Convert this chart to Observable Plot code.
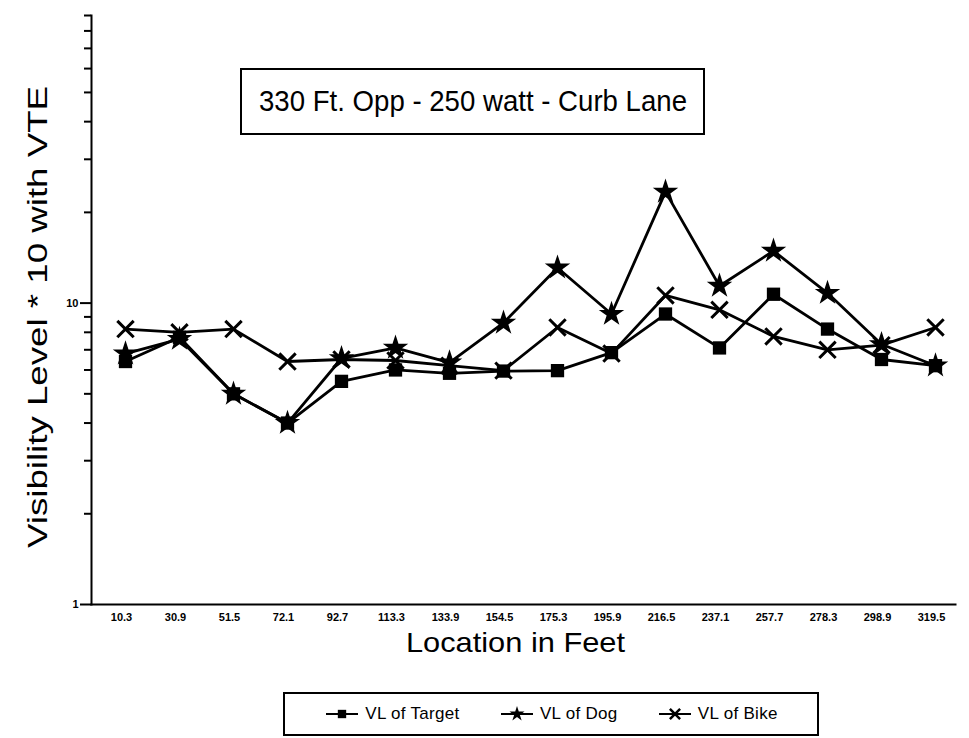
<!DOCTYPE html>
<html>
<head>
<meta charset="utf-8">
<script src="https://cdn.jsdelivr.net/npm/d3@7"></script>
<script src="https://cdn.jsdelivr.net/npm/@observablehq/plot@0.6"></script>
<style>
  body { margin: 0; background: #fff; font-family: "Liberation Sans", Arial, sans-serif; }
  #wrap { position: relative; width: 969px; height: 738px; }
  #overlay { position: absolute; left: 0; top: 0; pointer-events: none; }
  #legend { position: absolute; left: 283px; top: 692px; width: 532px; height: 40px; border: 2px solid #000;
            display: flex; align-items: center; justify-content: space-evenly; font-size: 17px; letter-spacing: 0.3px; }
  #legend span.item { display: inline-flex; align-items: center; gap: 5px; }
</style>
</head>
<body>
<div id="wrap">
  <div id="chart"></div>
  <div id="legend"></div>
</div>
<script>
const locations = ["10.3","30.9","51.5","72.1","92.7","113.3","133.9","154.5","175.3","195.9","216.5","237.1","257.7","278.3","298.9","319.5"];
const target = [6.4, 7.7, 5.0, 4.0, 5.5, 6.0, 5.85, 5.95, 5.97, 6.85, 9.2, 7.1, 10.7, 8.2, 6.5, 6.2];
const dog    = [6.8, 7.6, 5.0, 4.0, 6.55, 7.1, 6.35, 8.6, 13.1, 9.2, 23.4, 11.4, 14.9, 10.8, 7.3, 6.2];
const bike   = [8.2, 8.0, 8.2, 6.4, 6.5, 6.45, 6.2, 5.97, 8.3, 6.8, 10.6, 9.5, 7.75, 7.0, 7.25, 8.3];
const seriesNames = ["VL of Target", "VL of Dog", "VL of Bike"];
const minorTicks = [2,3,4,5,6,7,8,9,20,30,40,50,60,70,80,90];
const majorTicks = [1, 10];
const titleText = "330 Ft. Opp - 250 watt - Curb Lane";
const xLabel = "Location in Feet";
const yLabel = "Visibility Level * 10 with VTE";

const rows = [];
[target, dog, bike].forEach((arr, si) => arr.forEach((v, i) => rows.push({loc: locations[i], v, series: seriesNames[si]})));
const bySeries = name => rows.filter(d => d.series === name);

const chart = Plot.plot({
  width: 969,
  height: 680,
  marginLeft: 91,
  marginRight: 14,
  marginTop: 15,
  marginBottom: 76,
  style: {fontFamily: "Liberation Sans, Arial, sans-serif", color: "#000", background: "#fff"},
  x: {type: "point", domain: locations, range: [123, 937], padding: 0},
  y: {type: "log", domain: [1, 90]},
  marks: [
    Plot.frame({anchor: "left", strokeWidth: 2}),
    Plot.frame({anchor: "bottom", strokeWidth: 2}),
    Plot.axisY({ticks: minorTicks, tickSize: 7, tickFormat: () => "", label: null, strokeWidth: 2}),
    Plot.axisY({ticks: majorTicks, tickSize: 11, tickPadding: 2, tickFormat: d => String(d), label: null, fontSize: 11, fontWeight: "bold", strokeWidth: 2}),
    Plot.axisX({tickSize: 0, tickPadding: 9, label: null, fontSize: 11, fontWeight: "bold", dx: -4}),
    Plot.line(rows, {x: "loc", y: "v", z: "series", stroke: "#000", strokeWidth: 2.8}),
    Plot.dot(bySeries("VL of Target"), {x: "loc", y: "v", symbol: "square", r: 7.5, fill: "#000"}),
    Plot.dot(bySeries("VL of Dog"), {x: "loc", y: "v", symbol: "star", r: 8, fill: "#000"}),
    Plot.dot(bySeries("VL of Bike"), {x: "loc", y: "v", symbol: "times", r: 7.5, stroke: "#000", strokeWidth: 3})
  ]
});
document.getElementById("chart").appendChild(chart);

// overlay texts (title box and axis labels)
const ov = d3.select("#wrap").append("svg").attr("id", "overlay").attr("width", 969).attr("height", 680)
  .style("font-family", "Liberation Sans, Arial, sans-serif");
ov.append("rect").attr("x", 241).attr("y", 69).attr("width", 463).attr("height", 65)
  .attr("fill", "#fff").attr("stroke", "#000").attr("stroke-width", 2);
ov.append("text").attr("x", 259).attr("y", 111).attr("font-size", 29)
  .attr("textLength", 428).attr("lengthAdjust", "spacingAndGlyphs").text(titleText);
ov.append("text").attr("x", 406).attr("y", 652).attr("font-size", 28)
  .attr("textLength", 219).attr("lengthAdjust", "spacingAndGlyphs").text(xLabel);
ov.append("text").attr("transform", "translate(47,548) rotate(-90)").attr("font-size", 27)
  .attr("textLength", 462).attr("lengthAdjust", "spacingAndGlyphs").text(yLabel);

// legend
const legend = d3.select("#legend");
const syms = [d3.symbolSquare, d3.symbolStar, d3.symbolTimes];
seriesNames.forEach((name, i) => {
  const item = legend.append("span").attr("class", "item");
  const svg = item.append("svg").attr("width", 36).attr("height", 16);
  svg.append("line").attr("x1", 2).attr("x2", 34).attr("y1", 8).attr("y2", 8).attr("stroke", "#000").attr("stroke-width", 2);
  const p = svg.append("path").attr("transform", "translate(18,8)").attr("d", d3.symbol(syms[i], 70)());
  if (i === 2) p.attr("fill", "none").attr("stroke", "#000").attr("stroke-width", 2.5);
  else p.attr("fill", "#000");
  item.append("span").text(name);
});
</script>
</body>
</html>
